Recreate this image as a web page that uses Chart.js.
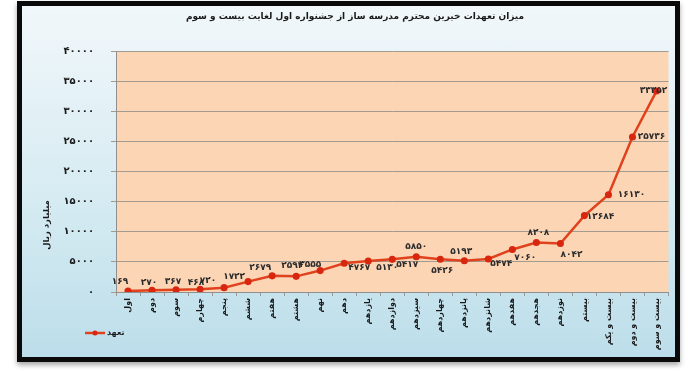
<!DOCTYPE html>
<html>
<head>
<meta charset="utf-8">
<script src="https://cdn.jsdelivr.net/npm/chart.js@4/dist/chart.umd.min.js"></script>
<style>
  body { margin: 0; background: #fff; width: 688px; height: 390px; position: relative; }
  #frame {
    position: absolute; left: 17px; top: 1px;
    width: 653px; height: 351px;
    border: 5px solid #0a0a0a;
    background: linear-gradient(#f1f7fa, #d6ebf2 55%, #bcdeea);
    box-shadow: 0 3px 5px rgba(0,0,0,0.35);
  }
  canvas { display: block; }
</style>
</head>
<body>
<div id="frame"><canvas id="commitments" width="653" height="351"></canvas></div>
<script>
// festivals (اول .. بیست و سوم)
var festivals = ["اول", "دوم", "سوم", "چهارم", "پنجم", "ششم", "هفتم", "هشتم", "نهم", "دهم",
  "یازدهم", "دوازدهم", "سیزدهم", "چهاردهم", "پانزدهم", "شانزدهم", "هفدهم", "هجدهم",
  "نوزدهم", "بیستم", "بیست و یکم", "بیست و دوم", "بیست و سوم"];
// billion rials
var commitments = [169, 270, 367, 468, 720, 1722, 2679, 2594, 3555, 4767, 5130, 5417,
  5850, 5426, 5193, 5474, 7060, 8208, 8042, 12684, 16130, 25736, 33352];
var yTicks = [0, 5000, 10000, 15000, 20000, 25000, 30000, 35000, 40000];

var seriesName = "تعهد";
var chartTitle = "میزان تعهدات خیرین محترم مدرسه ساز از جشنواره اول لغایت بیست و سوم";
var yTitle = "میلیارد ریال";

function toFa(n) {
  return String(n).replace(/\d/g, (d) => "۰۱۲۳۴۵۶۷۸۹"[d]);
}

// where each value label sits relative to its point (dx, dy)
var labelShift = [
  [-8, -9], [-3, -8], [-3, -8], [-4, -7], [-16, -7], [-14, -5], [-12, -8], [-4, -11],
  [-10, -6], [15, 4], [19, 7], [15, 5], [0, -10], [2, 11], [-3, -9], [13, 5], [13, 8],
  [2, -10], [11, 11], [16, 1], [23, 0], [19, 0], [-3, 0]
];

var plotBackground = {
  id: "plotBackground",
  beforeDraw(chart) {
    const { ctx, chartArea } = chart;
    ctx.save();
    ctx.fillStyle = "#fcd5b5";
    ctx.fillRect(chartArea.left, chartArea.top, chartArea.width, chartArea.height);
    ctx.restore();
  },
};

var extras = {
  id: "extras",
  afterDatasetsDraw(chart) {
    const ctx = chart.ctx;
    const meta = chart.getDatasetMeta(0);
    ctx.save();
    ctx.font = "bold 9px 'DejaVu Sans'";
    ctx.fillStyle = "#2b2b2b";
    ctx.textAlign = "center";
    ctx.textBaseline = "middle";
    meta.data.forEach((pt, i) => {
      const s = labelShift[i];
      ctx.fillText(toFa(commitments[i]), pt.x + s[0], pt.y + s[1]);
    });

    // title
    ctx.font = "bold 9px 'DejaVu Sans'";
    ctx.fillStyle = "#1a1a1a";
    ctx.fillText(chartTitle, 333, 11);

    // y axis title
    ctx.save();
    ctx.translate(25, 219);
    ctx.rotate(-Math.PI / 2);
    ctx.font = "bold 8.5px 'DejaVu Sans'";
    ctx.fillText(yTitle, 0, 0);
    ctx.restore();

    // legend
    ctx.strokeStyle = "#e0421e";
    ctx.lineWidth = 2.5;
    ctx.beginPath();
    ctx.moveTo(63, 327);
    ctx.lineTo(83, 327);
    ctx.stroke();
    ctx.fillStyle = "#d9260f";
    ctx.beginPath();
    ctx.arc(73, 327, 2.5, 0, Math.PI * 2);
    ctx.fill();
    ctx.font = "bold 8px 'DejaVu Sans'";
    ctx.fillStyle = "#1a1a1a";
    ctx.textAlign = "left";
    ctx.fillText(seriesName, 85, 327);
    ctx.restore();
  },
};

new Chart("commitments", {
  type: "line",
  data: {
    labels: festivals,
    datasets: [
      {
        label: seriesName,
        data: commitments,
        borderColor: "#e0421e",
        borderWidth: 2.5,
        backgroundColor: "#d9260f",
        pointBackgroundColor: "#d9260f",
        pointBorderColor: "#d9260f",
        pointRadius: 2.3,
        tension: 0,
      },
    ],
  },
  options: {
    responsive: false,
    animation: false,
    layout: { padding: { left: 0, right: 5, top: 45, bottom: 0 } },
    plugins: {
      legend: { display: false },
      tooltip: { enabled: false },
      title: { display: false },
    },
    scales: {
      x: {
        offset: true,
        grid: { drawOnChartArea: false, tickLength: 4, color: "#9a9a9a", offset: true },
        border: { color: "#8f8f8f" },
        ticks: {
          minRotation: 90,
          maxRotation: 90,
          autoSkip: false,
          padding: 2,
          color: "#1a1a1a",
          font: { family: "DejaVu Sans", size: 8, weight: "bold" },
        },
        afterFit(scale) { scale.height = 65; },
      },
      y: {
        min: 0,
        max: 40000,
        afterBuildTicks(scale) { scale.ticks = yTicks.map((v) => ({ value: v })); },
        grid: { color: "#a39a90", tickLength: 5 },
        border: { color: "#8f8f8f" },
        ticks: {
          padding: 17,
          color: "#1a1a1a",
          font: { family: "DejaVu Sans", size: 10, weight: "bold" },
          callback: (v) => toFa(v),
        },
        afterFit(scale) { scale.width = 94; },
      },
    },
  },
  plugins: [plotBackground, extras],
});
</script>
</body>
</html>
